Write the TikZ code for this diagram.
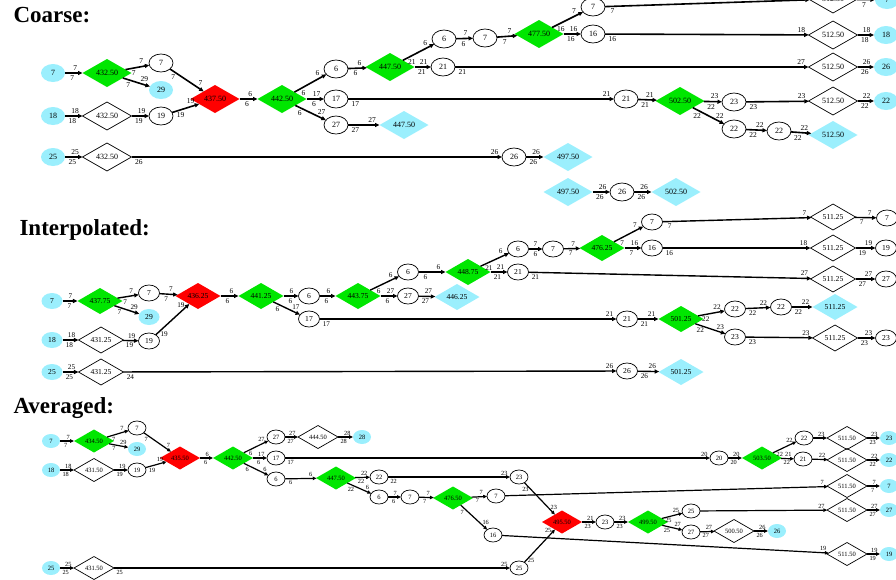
\documentclass[tikz,border=0pt]{standalone}
\usepackage{fontspec}
\setmainfont{Liberation Serif}
\usetikzlibrary{shapes.geometric,arrows.meta,calc}
\definecolor{cyanc}{HTML}{9BEFFD}
\definecolor{greenc}{HTML}{00E600}
\definecolor{redc}{HTML}{FF0000}
\newcommand\edg[4]{\draw[edge] (#1) -- (#2) coordinate[pos=0] (tt) coordinate[pos=1] (hh);
 \node[lab] at ($(hh)!\myld!-35:(tt)$) {#3};
 \node[lab] at ($(tt)!\myld!-35:(hh)$) {#4};}
\tikzset{
  base/.style={inner sep=0pt,outer sep=0pt},
  elsz/.style={minimum width=24pt,minimum height=18pt},
  dsz/.style={minimum width=49pt,minimum height=28pt},
  nfont/.style={font=\fontsize{8}{9}\selectfont},
  lfont/.style={font=\fontsize{7.5}{8}\selectfont},
  ell/.style={base,ellipse,draw,line width=0.7pt,elsz,nfont},
  cell/.style={base,ellipse,fill=cyanc,elsz,nfont},
  dia/.style={base,diamond,draw,line width=0.7pt,aspect=1.75,dsz,nfont},
  gdia/.style={base,diamond,fill=greenc,aspect=1.75,dsz,nfont},
  rdia/.style={base,diamond,fill=redc,aspect=1.75,dsz,nfont},
  cdia/.style={base,diamond,fill=cyanc,aspect=1.75,dsz,nfont},
  edge/.style={line width=1.5pt,-{Triangle[length=4.5pt,width=4pt]}},
  lab/.style={inner sep=0pt,lfont},
  ttl/.style={anchor=base west,font=\bfseries\fontsize{23}{23}\selectfont}
}
\begin{document}
\begin{tikzpicture}[x=1pt,y=-1pt]
\useasboundingbox (0,0) rectangle (896,579);
\node[ttl] (ta) at (10,22) {Coarse:};
\node[ttl] (tb) at (16,235) {Interpolated:};
\node[ttl] (tc) at (10,413) {Averaged:};

% ---------------- Coarse
\begin{scope}[edge/.append style={line width=1.6pt}]
\def\myld{9pt}
\node[cell] (a1) at (53,73) {7};
\node[gdia] (a2) at (107,73) {432.50};
\node[ell] (a3) at (161,63) {7};
\node[cell] (a4) at (161,90) {29};
\node[rdia] (a5) at (215,99) {437.50};
\node[gdia] (a6) at (282,99) {442.50};
\node[cell] (a7) at (53,116) {18};
\node[dia] (a8) at (107,116) {432.50};
\node[ell] (a9) at (161,116) {19};
\node[cell] (a10) at (53,157) {25};
\node[dia] (a11) at (107,157) {432.50};
\node[ell] (a12) at (336,69) {6};
\node[gdia] (a13) at (390,67) {447.50};
\node[ell] (a14) at (444,39) {6};
\node[ell] (a15) at (485,38) {7};
\node[gdia] (a16) at (539,34) {477.50};
\node[ell] (a17) at (593,7) {7};
\node[ell] (a18) at (593,34) {16};
\node[ell] (a19) at (443,67) {21};
\node[ell] (a20) at (336,99) {17};
\node[ell] (a21) at (336,125) {27};
\node[cdia] (a22) at (404,125) {447.50};
\node[ell] (a23) at (514,157) {26};
\node[cdia] (a24) at (568,157) {497.50};
\node[cdia] (a25) at (568,192) {497.50};
\node[ell] (a26) at (622,192) {26};
\node[cdia] (a27) at (676,192) {502.50};
\node[dia] (a28) at (833,-1) {512.50};
\node[cell] (a29) at (887,0) {7};
\node[dia] (a30) at (833,35) {512.50};
\node[cell] (a31) at (886,35) {18};
\node[dia] (a32) at (833,67) {512.50};
\node[cell] (a33) at (886,67) {26};
\node[ell] (a34) at (626,99) {21};
\node[gdia] (a35) at (680,101) {502.50};
\node[ell] (a36) at (734,102) {23};
\node[dia] (a37) at (833,101) {512.50};
\node[cell] (a38) at (886,101) {22};
\node[ell] (a39) at (734,129) {22};
\node[ell] (a40) at (779,131) {22};
\node[cdia] (a41) at (833,135) {512.50};
\edg{a1}{a2}{7}{7}
\edg{a2}{a3}{7}{7}
\edg{a2}{a4}{29}{7}
\edg{a3}{a5}{7}{7}
\edg{a9}{a5}{19}{19}
\edg{a7}{a8}{18}{18}
\edg{a8}{a9}{19}{19}
\edg{a5}{a6}{6}{6}
\edg{a10}{a11}{25}{25}
\edg{a11}{a23}{26}{26}
\edg{a6}{a12}{6}{6}
\edg{a6}{a20}{17}{6}
\edg{a6}{a21}{27}{6}
\edg{a12}{a13}{6}{6}
\edg{a13}{a14}{6}{21}
\edg{a13}{a19}{21}{21}
\edg{a14}{a15}{7}{6}
\edg{a15}{a16}{7}{7}
\edg{a16}{a17}{7}{16}
\edg{a16}{a18}{16}{16}
\edg{a17}{a28}{7}{7}
\edg{a28}{a29}{7}{7}
\edg{a18}{a30}{18}{16}
\edg{a30}{a31}{18}{18}
\edg{a19}{a32}{27}{21}
\edg{a32}{a33}{26}{26}
\edg{a20}{a34}{21}{17}
\edg{a34}{a35}{21}{21}
\edg{a35}{a36}{23}{22}
\edg{a35}{a39}{22}{22}
\edg{a36}{a37}{23}{23}
\edg{a37}{a38}{22}{22}
\edg{a39}{a40}{22}{22}
\edg{a40}{a41}{22}{22}
\edg{a21}{a22}{27}{27}
\edg{a23}{a24}{26}{26}
\edg{a25}{a26}{26}{26}
\edg{a26}{a27}{26}{26}
\end{scope}

% ---------------- Interpolated
\begin{scope}[elsz/.style={minimum width=21pt,minimum height=16pt},
  dsz/.style={minimum width=45pt,minimum height=26pt},
  nfont/.style={font=\fontsize{7.6}{8}\selectfont},
  lfont/.style={font=\fontsize{7.2}{8}\selectfont},
  edge/.append style={line width=1.4pt}]
\def\myld{8.5pt}
\node[cell] (b1) at (52,301) {7};
\node[gdia] (b2) at (100,301) {437.75};
\node[ell] (b3) at (149,293) {7};
\node[cell] (b4) at (149,317) {29};
\node[rdia] (b5) at (198,296) {436.25};
\node[gdia] (b6) at (261,296) {441.25};
\node[cell] (b7) at (52,340) {18};
\node[dia] (b8) at (101,340) {431.25};
\node[ell] (b9) at (149,341) {19};
\node[cell] (b10) at (52,372) {25};
\node[dia] (b11) at (101,372) {431.25};
\node[ell] (b12) at (309,296) {6};
\node[gdia] (b13) at (358,296) {443.75};
\node[ell] (b14) at (309,319) {17};
\node[ell] (b15) at (408,272) {6};
\node[ell] (b16) at (408,296) {27};
\node[cdia] (b17) at (457,297) {446.25};
\node[gdia] (b18) at (468,272) {448.75};
\node[ell] (b19) at (518,249) {6};
\node[ell] (b20) at (553,249) {7};
\node[ell] (b21) at (518,272) {21};
\node[gdia] (b22) at (602,248) {476.25};
\node[ell] (b23) at (652,222) {7};
\node[ell] (b24) at (652,248) {16};
\node[dia] (b25) at (833,217) {511.25};
\node[ell] (b26) at (887,218) {7};
\node[dia] (b27) at (833,248) {511.25};
\node[ell] (b28) at (886,248) {19};
\node[dia] (b29) at (833,279) {511.25};
\node[ell] (b30) at (886,279) {27};
\node[ell] (b31) at (627,319) {21};
\node[gdia] (b32) at (681,319) {501.25};
\node[ell] (b33) at (735,309) {22};
\node[ell] (b34) at (781,307) {22};
\node[cdia] (b35) at (835,307) {511.25};
\node[ell] (b36) at (735,337) {23};
\node[dia] (b37) at (835,338) {511.25};
\node[ell] (b38) at (886,338) {23};
\node[ell] (b39) at (627,371) {26};
\node[cdia] (b40) at (681,372) {501.25};
\edg{b1}{b2}{7}{7}
\edg{b2}{b3}{7}{7}
\edg{b2}{b4}{29}{7}
\edg{b3}{b5}{7}{7}
\edg{b9}{b5}{19}{19}
\edg{b7}{b8}{18}{18}
\edg{b8}{b9}{19}{19}
\edg{b5}{b6}{6}{6}
\edg{b10}{b11}{25}{25}
\edg{b11}{b39}{26}{24}
\edg{b6}{b12}{6}{6}
\edg{b6}{b14}{17}{6}
\edg{b12}{b13}{6}{6}
\edg{b13}{b15}{6}{6}
\edg{b13}{b16}{27}{6}
\edg{b16}{b17}{27}{27}
\edg{b15}{b18}{6}{6}
\edg{b18}{b19}{6}{21}
\edg{b18}{b21}{21}{21}
\edg{b19}{b20}{7}{6}
\edg{b20}{b22}{7}{7}
\edg{b22}{b23}{7}{7}
\edg{b22}{b24}{16}{7}
\edg{b23}{b25}{7}{7}
\edg{b25}{b26}{7}{7}
\edg{b24}{b27}{18}{16}
\edg{b27}{b28}{19}{19}
\edg{b21}{b29}{27}{21}
\edg{b29}{b30}{27}{27}
\edg{b14}{b31}{21}{17}
\edg{b31}{b32}{21}{21}
\edg{b32}{b33}{22}{22}
\edg{b32}{b36}{23}{22}
\edg{b33}{b34}{22}{22}
\edg{b34}{b35}{22}{22}
\edg{b36}{b37}{23}{23}
\edg{b37}{b38}{23}{23}
\edg{b39}{b40}{26}{26}
\end{scope}

% ---------------- Averaged
\begin{scope}[elsz/.style={minimum width=18pt,minimum height=14pt},
  dsz/.style={minimum width=40pt,minimum height=23pt},
  nfont/.style={font=\fontsize{6.5}{7}\selectfont},
  lfont/.style={font=\fontsize{6.3}{7}\selectfont},
  edge/.append style={line width=1.2pt,-{Triangle[length=3.8pt,width=3.4pt]}}]
\def\myld{7pt}
\node[cell] (c1) at (51,441) {7};
\node[gdia] (c2) at (94,441) {434.50};
\node[ell] (c3) at (137,428) {7};
\node[cell] (c4) at (137,449) {29};
\node[rdia] (c5) at (180,458) {435.50};
\node[gdia] (c6) at (233,458) {442.50};
\node[cell] (c7) at (51,470) {18};
\node[dia] (c8) at (94,470) {431.50};
\node[ell] (c9) at (137,470) {19};
\node[cell] (c10) at (51,568) {25};
\node[dia] (c11) at (94,568) {431.50};
\node[ell] (c12) at (276,437) {27};
\node[ell] (c13) at (276,458) {17};
\node[ell] (c14) at (276,479) {6};
\node[dia] (c15) at (318,437) {444.50};
\node[cell] (c16) at (362,437) {28};
\node[gdia] (c17) at (336,478) {447.50};
\node[ell] (c18) at (379,477) {22};
\node[ell] (c19) at (379,497) {6};
\node[ell] (c20) at (410,497) {7};
\node[gdia] (c21) at (453,498) {476.50};
\node[ell] (c22) at (496,496) {7};
\node[ell] (c23) at (519,477) {23};
\node[rdia] (c24) at (562,522) {495.50};
\node[ell] (c25) at (493,535) {16};
\node[ell] (c26) at (519,568) {25};
\node[ell] (c27) at (719,458) {20};
\node[gdia] (c28) at (762,458) {503.50};
\node[ell] (c29) at (804,438) {22};
\node[ell] (c30) at (803,459) {21};
\node[dia] (c31) at (847,438) {511.50};
\node[dia] (c32) at (847,460) {511.50};
\node[cell] (c33) at (889,438) {23};
\node[cell] (c34) at (889,460) {22};
\node[dia] (c35) at (847,486) {511.50};
\node[cell] (c36) at (889,486) {7};
\node[ell] (c37) at (605,522) {23};
\node[gdia] (c38) at (648,522) {499.50};
\node[ell] (c39) at (691,511) {25};
\node[ell] (c40) at (691,532) {27};
\node[dia] (c41) at (734,531) {500.50};
\node[cell] (c42) at (777,531) {26};
\node[dia] (c43) at (847,510) {511.50};
\node[cell] (c44) at (889,510) {27};
\node[dia] (c45) at (847,554) {511.50};
\node[cell] (c46) at (889,554) {19};
\edg{c1}{c2}{7}{7}
\edg{c2}{c3}{7}{7}
\edg{c2}{c4}{29}{7}
\edg{c3}{c5}{7}{7}
\edg{c9}{c5}{19}{19}
\edg{c7}{c8}{18}{18}
\edg{c8}{c9}{19}{19}
\edg{c5}{c6}{6}{6}
\edg{c10}{c11}{25}{25}
\edg{c11}{c26}{25}{25}
\edg{c6}{c12}{27}{6}
\edg{c6}{c13}{17}{6}
\edg{c6}{c14}{6}{6}
\edg{c12}{c15}{27}{27}
\edg{c15}{c16}{28}{28}
\edg{c13}{c27}{20}{17}
\edg{c14}{c17}{6}{6}
\edg{c17}{c18}{22}{22}
\edg{c17}{c19}{6}{22}
\edg{c18}{c23}{23}{22}
\edg{c19}{c20}{7}{6}
\edg{c20}{c21}{7}{7}
\edg{c21}{c22}{7}{7}
\edg{c21}{c25}{16}{7}
\edg{c23}{c24}{23}{23}
\edg{c26}{c24}{25}{25}
\edg{c24}{c37}{21}{23}
\edg{c22}{c35}{7}{}
\edg{c35}{c36}{7}{7}
\edg{c25}{c45}{19}{}
\edg{c45}{c46}{19}{19}
\edg{c27}{c28}{20}{20}
\edg{c28}{c29}{22}{22}
\edg{c28}{c30}{21}{22}
\edg{c29}{c31}{23}{}
\edg{c30}{c32}{22}{}
\edg{c31}{c33}{23}{23}
\edg{c32}{c34}{22}{22}
\edg{c37}{c38}{23}{23}
\edg{c38}{c39}{25}{25}
\edg{c38}{c40}{27}{25}
\edg{c39}{c43}{27}{}
\edg{c43}{c44}{27}{27}
\edg{c40}{c41}{27}{27}
\edg{c41}{c42}{26}{26}
\end{scope}
\end{tikzpicture}
\end{document}
